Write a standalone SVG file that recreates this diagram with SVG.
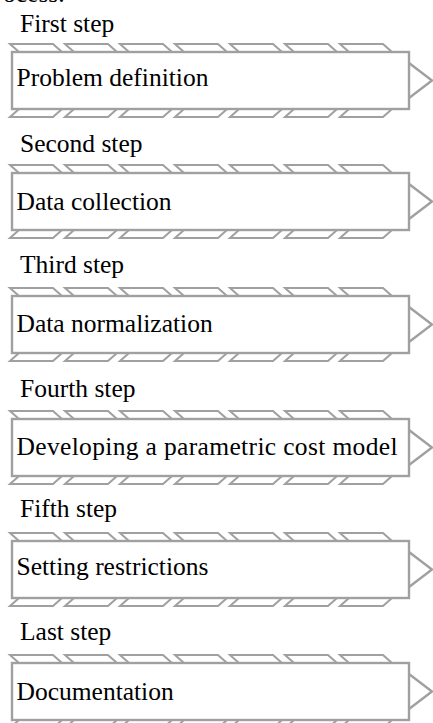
<svg xmlns="http://www.w3.org/2000/svg" xmlns:xlink="http://www.w3.org/1999/xlink" width="433" height="723" viewBox="0 0 433 723">
<style>
.t{font-family:"Liberation Serif","Times New Roman",serif;font-size:25.5px;fill:#000}
.h{fill:#fff;stroke:#a0a0a0;stroke-width:2}
.b{fill:#fff;stroke:#a0a0a0;stroke-width:2.4}
</style>
<defs>
<g id="frame">
<g class="h">
<polygon points="10,-8 53,-8 62,0 19,0"/>
<polygon points="65,-8 108,-8 117,0 74,0"/>
<polygon points="120,-8 163,-8 172,0 129,0"/>
<polygon points="175,-8 218,-8 227,0 184,0"/>
<polygon points="230,-8 273,-8 282,0 239,0"/>
<polygon points="285,-8 328,-8 337,0 294,0"/>
<polygon points="340,-8 383,-8 392,0 349,0"/>
<polygon points="19,57 62,57 53,65 10,65"/>
<polygon points="74,57 117,57 108,65 65,65"/>
<polygon points="129,57 172,57 163,65 120,65"/>
<polygon points="184,57 227,57 218,65 175,65"/>
<polygon points="239,57 282,57 273,65 230,65"/>
<polygon points="294,57 337,57 328,65 285,65"/>
<polygon points="349,57 392,57 383,65 340,65"/>
</g>
<polyline class="b" points="409,11 432,28.5 409,46"/>
<rect class="b" x="12" y="0" width="397" height="57"/>
</g>
</defs>
<text class="t" x="3" y="2">ocess.</text>
<g id="step1">
<text class="t" x="20" y="32">First step</text>
<use xlink:href="#frame" href="#frame" y="52"/>
<text class="t" x="16.5" y="86">Problem definition</text>
</g>
<g id="step2">
<text class="t" x="20" y="152">Second step</text>
<use xlink:href="#frame" href="#frame" y="173"/>
<text class="t" x="16.5" y="210">Data collection</text>
</g>
<g id="step3">
<text class="t" x="20" y="273">Third step</text>
<use xlink:href="#frame" href="#frame" y="296"/>
<text class="t" x="16.5" y="332">Data normalization</text>
</g>
<g id="step4">
<text class="t" x="20" y="397">Fourth step</text>
<use xlink:href="#frame" href="#frame" y="419"/>
<text class="t" x="16.5" y="455" textLength="381" lengthAdjust="spacing">Developing a parametric cost model</text>
</g>
<g id="step5">
<text class="t" x="20" y="517">Fifth step</text>
<use xlink:href="#frame" href="#frame" y="541"/>
<text class="t" x="16.5" y="575">Setting restrictions</text>
</g>
<g id="step6">
<text class="t" x="20" y="640">Last step</text>
<use xlink:href="#frame" href="#frame" y="663"/>
<text class="t" x="16.5" y="700">Documentation</text>
</g>
<g id="connectors"/>
</svg>
